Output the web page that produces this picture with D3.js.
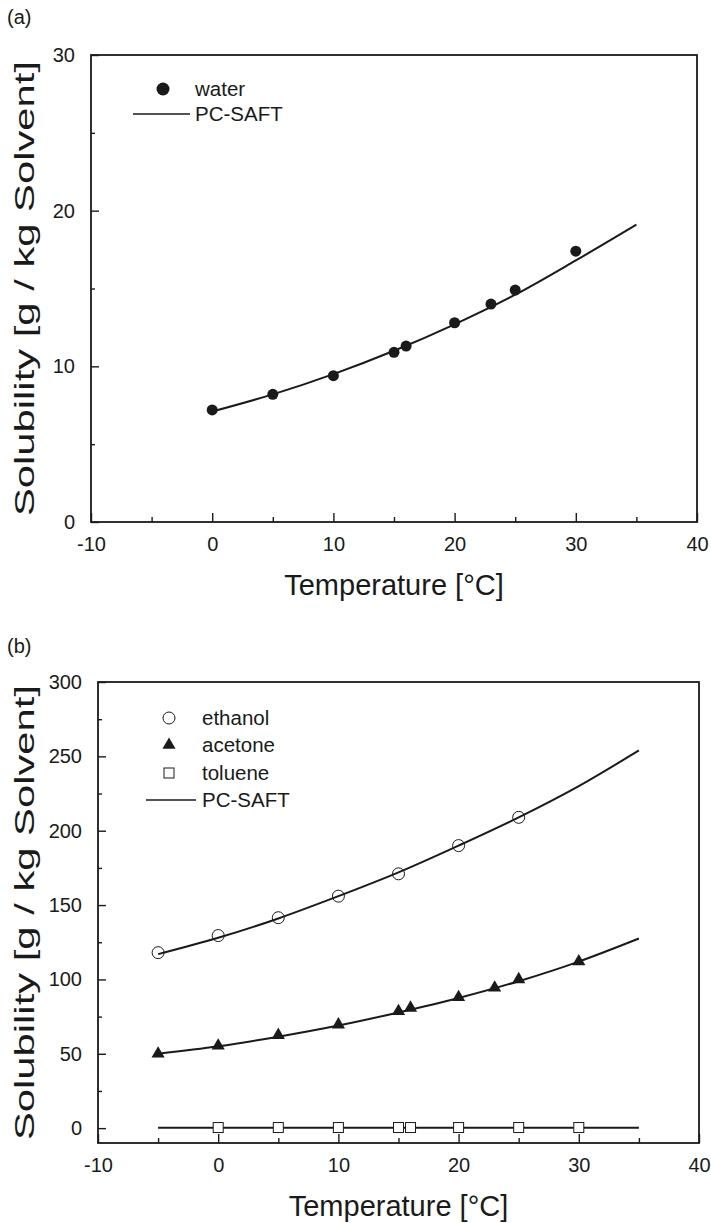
<!DOCTYPE html>
<html>
<head>
<meta charset="utf-8">
<script src="https://cdn.jsdelivr.net/npm/d3@7"></script>
<style>
  body { margin: 0; background: #fff; }
  svg { display: block; font-family: "Liberation Sans", Arial, sans-serif; }
</style>
</head>
<body>
<svg id="chart" width="711" height="1223"></svg>
<script>
// panel (a): water
const waterT = [0, 5, 10, 15, 16, 20, 23, 25, 30]
const waterS = [7.2, 8.2, 9.4, 10.9, 11.3, 12.8, 14.0, 14.9, 17.4]
const waterFitT = [0, 5, 10, 15, 20, 25, 30, 35]
const waterFitS = [7.1, 8.2, 9.5, 11.0, 12.7, 14.6, 16.8, 19.1]

// panel (b): ethanol, acetone, toluene
const ethanolT = [-5, 0, 5, 10, 15, 20, 25]
const ethanolS = [118, 129.5, 141.5, 156, 171, 190, 209]
const ethanolFitT = [-5, 0, 5, 10, 15, 20, 25, 30, 35]
const ethanolFitS = [117, 128, 141, 156, 172, 190, 209, 230, 254]

const acetoneT = [-5, 0, 5, 10, 15, 16, 20, 23, 25, 30]
const acetoneS = [50, 55.4, 62.5, 69.6, 78.6, 80.8, 88, 94.4, 100, 112]
const acetoneFitT = [-5, 0, 5, 10, 15, 20, 25, 30, 35]
const acetoneFitS = [50, 55, 61.5, 69, 77.8, 87.5, 98.8, 112, 127.5]

const tolueneT = [0, 5, 10, 15, 16, 20, 25, 30]
const tolueneS = [0.4, 0.4, 0.4, 0.4, 0.4, 0.4, 0.4, 0.4]
const tolueneFitT = [-5, 35]
const tolueneFitS = [0.3, 0.3]

const xTicks = [-10, 0, 10, 20, 30, 40]
const xMinor = [-5, 5, 15, 25, 35]
const yTicksA = [0, 10, 20, 30]
const yMinorA = [5, 15, 25]
const yTicksB = [0, 50, 100, 150, 200, 250, 300]
const yMinorB = [25, 75, 125, 175, 225, 275]

const svg = d3.select('#chart')
const INK = '#1a1a1a'
const FONT = '"Liberation Sans", Arial, sans-serif'
const zip = (a, b) => a.map((v, i) => [v, b[i]])
const plain = d => String(d)   // hyphen-minus like the original, not U+2212

function panel(box, yDomain, yTicks, yMinor, tag, tagY) {
  const x = d3.scaleLinear().domain([-10, 40]).range([box.left, box.right])
  const y = d3.scaleLinear().domain(yDomain).range([box.bottom, box.top])
  const g = svg.append('g')

  // ticks point inward
  g.append('g').attr('transform', `translate(0,${box.bottom})`)
    .call(d3.axisBottom(x).tickValues(xTicks).tickSize(-9).tickPadding(15).tickFormat(plain))
  g.append('g').attr('transform', `translate(0,${box.bottom})`)
    .call(d3.axisBottom(x).tickValues(xMinor).tickSize(-5).tickFormat(''))
  g.append('g').attr('transform', `translate(${box.left},0)`)
    .call(d3.axisLeft(y).tickValues(yTicks).tickSize(-8).tickPadding(16).tickFormat(plain))
  g.append('g').attr('transform', `translate(${box.left},0)`)
    .call(d3.axisLeft(y).tickValues(yMinor).tickSize(-4).tickFormat(''))

  g.selectAll('.domain').remove()
  g.selectAll('.tick line').attr('stroke', INK).attr('stroke-width', 1.4)
  g.selectAll('.tick text').attr('fill', INK).attr('font-size', 20).attr('font-family', FONT)

  g.append('rect')
    .attr('x', box.left).attr('y', box.top)
    .attr('width', box.right - box.left).attr('height', box.bottom - box.top)
    .attr('fill', 'none').attr('stroke', INK).attr('stroke-width', 1.8)

  g.append('text')
    .attr('x', (box.left + box.right) / 2).attr('y', box.bottom + 73)
    .attr('text-anchor', 'middle').attr('font-size', 29).attr('fill', INK)
    .text('Temperature [°C]')
  // the y title in the original is stretched along its baseline to fill the frame height
  g.append('text')
    .attr('transform', `translate(34,${(box.top + box.bottom) / 2}) rotate(-90)`)
    .attr('text-anchor', 'middle').attr('font-size', 28).attr('fill', INK)
    .attr('textLength', 455).attr('lengthAdjust', 'spacingAndGlyphs')
    .text('Solubility [g / kg Solvent]')
  g.append('text')
    .attr('x', 7).attr('y', tagY)
    .attr('font-size', 20).attr('fill', INK)
    .text(tag)

  return { x, y, g }
}

const line = (x, y) => d3.line().x(d => x(d[0])).y(d => y(d[1])).curve(d3.curveMonotoneX)

// ---- panel (a)
const A = panel({ left: 91, right: 697, top: 55, bottom: 522 }, [0, 30], yTicksA, yMinorA, '(a)', 24)
A.g.append('path').datum(zip(waterFitT, waterFitS))
  .attr('d', line(A.x, A.y)).attr('fill', 'none').attr('stroke', INK).attr('stroke-width', 2)
A.g.selectAll('circle.water').data(zip(waterT, waterS)).join('circle')
  .attr('cx', d => A.x(d[0])).attr('cy', d => A.y(d[1])).attr('r', 5.5).attr('fill', INK)

// legend (a)
A.g.append('circle').attr('cx', 163).attr('cy', 89).attr('r', 6.5).attr('fill', INK)
A.g.append('text').attr('x', 195).attr('y', 96).attr('font-size', 20.5).attr('fill', INK).text('water')
A.g.append('line').attr('x1', 133).attr('x2', 190).attr('y1', 114).attr('y2', 114)
  .attr('stroke', INK).attr('stroke-width', 1.6)
A.g.append('text').attr('x', 195).attr('y', 121).attr('font-size', 20.5).attr('fill', INK).text('PC-SAFT')

// ---- panel (b)
const B = panel({ left: 98, right: 699, top: 682, bottom: 1143 }, [-10, 300], yTicksB, yMinorB, '(b)', 653)
for (const [ft, fs] of [[ethanolFitT, ethanolFitS], [acetoneFitT, acetoneFitS], [tolueneFitT, tolueneFitS]]) {
  B.g.append('path').datum(zip(ft, fs))
    .attr('d', line(B.x, B.y)).attr('fill', 'none').attr('stroke', INK).attr('stroke-width', 2)
}
B.g.selectAll('circle.eth').data(zip(ethanolT, ethanolS)).join('circle')
  .attr('cx', d => B.x(d[0])).attr('cy', d => B.y(d[1])).attr('r', 6)
  .attr('fill', 'none').attr('stroke', INK).attr('stroke-width', 1)
const tri = d3.symbol().type(d3.symbolTriangle).size(75)
B.g.selectAll('path.ace').data(zip(acetoneT, acetoneS)).join('path')
  .attr('transform', d => `translate(${B.x(d[0])},${B.y(d[1])})`)
  .attr('d', tri).attr('fill', INK)
B.g.selectAll('rect.tol').data(zip(tolueneT, tolueneS)).join('rect')
  .attr('x', d => B.x(d[0]) - 5).attr('y', d => B.y(d[1]) - 5)
  .attr('width', 10).attr('height', 10)
  .attr('fill', '#fff').attr('stroke', INK).attr('stroke-width', 1)

// legend (b)
const lx = 169
B.g.append('circle').attr('cx', lx).attr('cy', 718).attr('r', 6)
  .attr('fill', 'none').attr('stroke', INK).attr('stroke-width', 1)
B.g.append('path').attr('transform', `translate(${lx},745)`).attr('d', tri).attr('fill', INK)
B.g.append('rect').attr('x', lx - 5).attr('y', 768).attr('width', 10).attr('height', 10)
  .attr('fill', '#fff').attr('stroke', INK).attr('stroke-width', 1)
B.g.append('line').attr('x1', 146).attr('x2', 196).attr('y1', 800).attr('y2', 800)
  .attr('stroke', INK).attr('stroke-width', 1.6)
const names = ['ethanol', 'acetone', 'toluene', 'PC-SAFT']
names.forEach((n, i) => {
  B.g.append('text').attr('x', 202).attr('y', 725 + i * 27.3)
    .attr('font-size', 20.5).attr('fill', INK).text(n)
})
</script>
</body>
</html>
